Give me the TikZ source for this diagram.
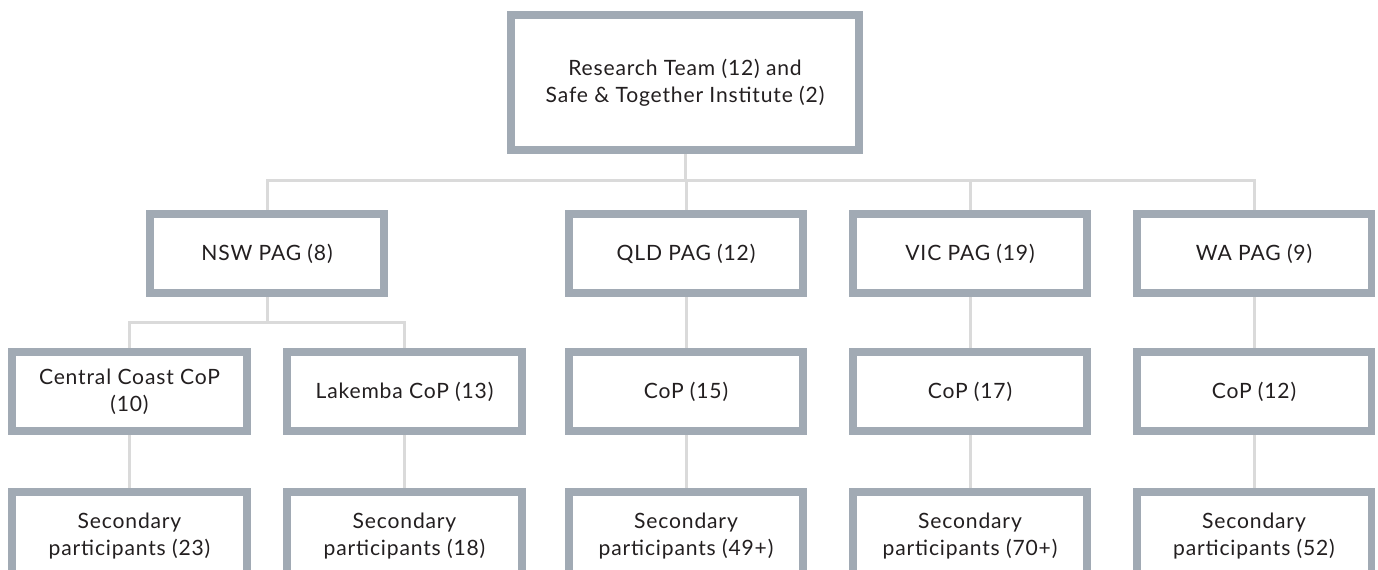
\documentclass[tikz,border=0pt]{standalone}
\usepackage{fontspec}
\setmainfont{Lato}[LetterSpace=4]
\usepackage{xcolor}
\usepackage{tikz}
\usetikzlibrary{positioning,backgrounds}
\definecolor{orgframe}{HTML}{A1AAB4}
\definecolor{orglink}{HTML}{DADADA}
\definecolor{orgtext}{HTML}{231F20}

\begin{document}
\begin{tikzpicture}[
  x=0.02cm,y=-0.02cm,
  unit/.style={draw=orgframe,line width=0.16cm,fill=white,text=orgtext,align=center,
    font=\fontsize{12}{15.4}\selectfont,minimum width=4.7cm,minimum height=1.58cm,inner sep=0pt},
  lead/.style={unit,minimum width=6.96cm,minimum height=2.7cm},
  tail/.style={unit,minimum height=1.75cm},
  link/.style={draw=orglink,line width=0.06cm}
]
\useasboundingbox (0,0) rectangle (1378,569);
\clip (0,0) rectangle (1378,569);
\node[lead] (team) at (685,82.5) {Research Team (12) and\\Safe \& Together Institute (2)};
\node[unit] (nsw) at (267,253.5) {NSW PAG (8)};
\node[unit] (qld) at (686,253.5) {QLD PAG (12)};
\node[unit] (vic) at (970,253.5) {VIC PAG (19)};
\node[unit] (wa) at (1254,253.5) {WA PAG (9)};
\node[unit] (cc) at (129.5,391.5) {Central Coast CoP\\(10)};
\node[unit] (lak) at (404.5,391.5) {Lakemba CoP (13)};
\node[unit] (qldcop) at (686,391.5) {CoP (15)};
\node[unit] (viccop) at (970,391.5) {CoP (17)};
\node[unit] (wacop) at (1254,391.5) {CoP (12)};
\node[tail] (ccsec) at (129.5,536) {Secondary\\participants (23)};
\node[tail] (laksec) at (404.5,536) {Secondary\\participants (18)};
\node[tail] (qldsec) at (686,536) {Secondary\\participants (49+)};
\node[tail] (vicsec) at (970,536) {Secondary\\participants (70+)};
\node[tail] (wasec) at (1254,536) {Secondary\\participants (52)};
\coordinate (bustop) at (0,180);
\coordinate (busnsw) at (0,322);
\begin{scope}[on background layer]
\draw[link] (team) -- (team |- bustop);
\draw[link] (nsw) -- (nsw |- bustop) -- (wa |- bustop) -- (wa);
\draw[link] (qld |- bustop) -- (qld);
\draw[link] (vic |- bustop) -- (vic);
\draw[link] (nsw) -- (nsw |- busnsw);
\draw[link] (cc) -- (cc |- busnsw) -- (lak |- busnsw) -- (lak);
\draw[link] (cc) -- (ccsec);
\draw[link] (lak) -- (laksec);
\draw[link] (qld) -- (qldcop) -- (qldsec);
\draw[link] (vic) -- (viccop) -- (vicsec);
\draw[link] (wa) -- (wacop) -- (wasec);
\end{scope}
\end{tikzpicture}
\end{document}
